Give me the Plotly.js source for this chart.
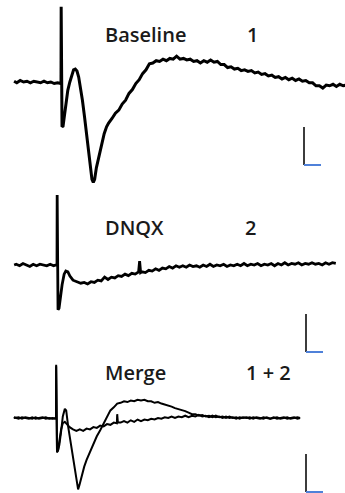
<!DOCTYPE html>
<html>
<head>
<meta charset="utf-8">
<script src="https://cdn.plot.ly/plotly-3.0.1.min.js"></script>
<style>
  html, body { margin: 0; padding: 0; background: #ffffff; }
  #chart { width: 345px; height: 493px; }
</style>
</head>
<body>
<div id="chart"></div>
<script>
// ---- Data (time in ms relative to stimulus, amplitude in mV relative to baseline) ----
const panelLabels = ["Baseline", "DNQX", "Merge"];
const panelTags = ["1", "2", "1 + 2"];

// Panel 1: Baseline
const baselineTime = [-13.8,-13,-12,-11,-10,-9,-8,-7,-6,-5,-4,-3,-2,-1,-0.3,
  0,0.05,0.3,0.6,1.0,1.5,2.0,2.6,3.2,3.7,4.2,4.7,5.2,5.7,6.3,6.9,7.5,8.1,8.6,9.1,9.5,9.9,10.4,10.9,11.4,12.0,12.7,13.4,
  14,15,16,17,18,19,20,21,22,23,24,25,26,27,28,29,30,31,32,33,34,35,36,37,38,39,40,41,42,43,44,45,46,47,48,49,
  50,51,52,53,54,55,56,57,58,59,60,61,62,63,64,65,66,67,68,69,70,71,72,73,74,75,76,77,78,79,80,81,82,83,84];
const baselineMv = [0.01,-0.01,0.02,0.00,0.01,-0.01,0.01,0.00,-0.01,0.01,-0.01,0.00,-0.02,-0.01,-0.02,
  -0.02,0.99,-0.59,-0.58,-0.43,-0.24,-0.11,0.00,0.105,0.16,0.17,0.145,0.066,-0.05,-0.24,-0.45,-0.70,-0.93,-1.13,-1.28,-1.32,-1.28,-1.13,-1.03,-0.91,-0.80,-0.68,-0.59,
  -0.54,-0.48,-0.41,-0.37,-0.29,-0.24,-0.15,-0.10,-0.02,0.03,0.11,0.16,0.24,0.25,0.28,0.27,0.30,0.28,0.31,0.30,0.34,0.30,0.31,0.29,0.30,0.27,0.28,0.25,0.28,0.26,0.29,0.26,0.27,0.23,0.23,0.19,
  0.20,0.17,0.18,0.15,0.16,0.14,0.15,0.12,0.13,0.10,0.11,0.08,0.09,0.06,0.07,0.04,0.06,0.03,0.05,0.02,0.04,0.01,0.02,-0.01,-0.01,-0.05,-0.05,-0.08,-0.04,-0.05,-0.03,-0.06,-0.03,-0.05,-0.04];

// Panel 2: DNQX
const dnqxTime = [-12.6,-12,-11,-10,-9,-8,-7,-6,-5,-4,-3,-2,-1,-0.3,
  0,0.05,0.3,0.6,0.9,1.5,2.1,2.6,3.2,3.8,4.7,5.9,7,8,9,10,11,12,13,14,15,16,17,18,19,20,21,22,23,24,24.3,24.6,
  25,26,27,28,29,30,31,32,33,34,35,36,37,38,39,40,41,42,43,44,45,46,47,48,49,50,51,52,53,54,55,56,57,58,59,
  60,61,62,63,64,65,66,67,68,69,70,71,72,73,74,75,76,77,78,79,80,81,82];
const dnqxMv = [0.00,0.01,-0.01,0.02,0.00,-0.02,0.01,-0.01,0.01,0.00,-0.01,0.01,-0.01,0.00,
  0.00,0.92,-0.59,-0.57,-0.46,-0.26,-0.12,-0.08,-0.09,-0.145,-0.20,-0.22,-0.24,-0.23,-0.25,-0.22,-0.23,-0.20,-0.21,-0.16,-0.19,-0.16,-0.17,-0.14,-0.15,-0.12,-0.14,-0.11,-0.12,-0.09,0.05,-0.10,
  -0.09,-0.10,-0.07,-0.08,-0.05,-0.07,-0.04,-0.05,-0.02,-0.04,-0.01,-0.03,-0.01,-0.03,0.00,-0.02,-0.01,-0.03,0.00,-0.02,0.01,-0.02,0.00,-0.01,0.01,-0.02,0.00,-0.01,0.01,-0.01,0.02,-0.01,0.01,0.00,0.02,
  -0.01,0.01,0.00,0.02,-0.01,0.02,0.00,0.03,0.00,0.02,0.01,0.03,0.00,0.02,0.01,0.03,0.01,0.02,0.00,0.03,0.01,0.03,0.02];

// Panel 3: Merge (baseline trace and DNQX trace overlaid)
const mergeTime1 = [-12.4,-11,-10,-9,-8,-7,-6,-5,-4,-3,-2,-1,-0.3,
  0,0.05,0.3,0.6,1.0,1.5,2.0,2.6,3.0,3.6,4.6,5.6,6.2,6.5,6.9,7.6,8.3,9.0,
  10,11,12,13,14,15,16,17,18,19,20,21,22,23,24,25,26,27,28,29,30,31,32,33,34,35,36,37,38,39,
  40,41,42,43,44,45,46,47,48,49,50,51,52,53,54,55,56,57,58,59,60,61,62,63,64,65,66,67,68,69,70,71,71.8];
const mergeMv1 = [0.01,-0.01,0.01,0.00,-0.01,0.01,-0.01,0.00,0.01,-0.01,0.00,-0.01,0.00,
  0.00,0.70,-0.45,-0.43,-0.35,-0.18,0.02,0.12,0.10,-0.12,-0.42,-0.72,-0.88,-0.94,-0.88,-0.75,-0.64,-0.55,
  -0.44,-0.33,-0.24,-0.16,-0.07,0.02,0.10,0.14,0.19,0.20,0.22,0.21,0.23,0.22,0.24,0.23,0.24,0.22,0.22,0.20,0.21,0.19,0.18,0.16,0.15,0.13,0.12,0.10,0.09,0.07,
  0.05,0.05,0.03,0.04,0.02,0.03,0.01,0.03,0.01,0.02,0.00,0.02,0.00,0.01,-0.01,0.01,0.00,0.01,-0.01,0.01,0.00,-0.01,0.01,-0.01,0.00,0.01,-0.01,0.00,0.01,-0.01,0.00,0.01,0.00];
const mergeTime2 = [-12.4,-11,-10,-9,-8,-7,-6,-5,-4,-3,-2,-1,-0.3,
  0,0.05,0.3,0.6,1.0,1.5,2.0,2.6,3.2,4.0,5,6,7,8,9,10,11,12,13,14,15,16,17,17.9,18,18.2,19,
  20,21,22,23,24,25,26,27,28,29,30,31,32,33,34,35,36,37,38,39,40,41,42,43,44,45,46,47,48,49,
  50,51,52,53,54,55,56,57,58,59,60,61,62,63,64,65,66,67,68,69,70,71,71.8];
const mergeMv2 = [0.00,0.01,-0.01,0.01,0.00,-0.01,0.01,-0.01,0.00,0.01,-0.01,0.00,-0.01,
  0.00,0.68,-0.45,-0.42,-0.30,-0.15,-0.07,-0.05,-0.08,-0.12,-0.15,-0.17,-0.15,-0.17,-0.14,-0.15,-0.12,-0.13,-0.10,-0.11,-0.08,-0.09,-0.06,-0.07,0.05,-0.06,-0.06,
  -0.04,-0.06,-0.03,-0.05,-0.02,-0.04,-0.02,-0.03,-0.01,-0.02,0.00,-0.01,0.01,0.00,0.02,0.00,0.02,0.01,0.03,0.01,0.03,0.02,0.04,0.02,0.03,0.01,0.03,0.01,0.02,0.00,
  0.02,0.00,0.01,-0.01,0.01,0.00,0.01,-0.01,0.01,0.00,-0.01,0.01,0.00,-0.01,0.01,-0.01,0.00,0.01,-0.01,0.00,0.01,-0.01,0.00];

// Scale bar size (same in every panel)
const scaleBarMs = [5, 5, 5];
const scaleBarMv = [0.5, 0.5, 0.5];

// ---- Layout geometry ----
const W = 345, H = 493;
const pxPerMs = 3.4, pxPerMv = 76;
const geo = [
  {stimX: 61, baseY: 82,  top: 0,   bottom: 192, sbX: 304, sbY: 165, labelY: 35,  lineW: 3.0},
  {stimX: 57, baseY: 265, top: 192, bottom: 356, sbX: 306, sbY: 352, labelY: 227, lineW: 2.8},
  {stimX: 56, baseY: 418, top: 356, bottom: 493, sbX: 306, sbY: 492, labelY: 372, lineW: 2.0}
];

const traces = [];
const layout = {
  width: W, height: H,
  margin: {l: 0, r: 0, t: 0, b: 0},
  paper_bgcolor: '#ffffff',
  plot_bgcolor: 'rgba(0,0,0,0)',
  showlegend: false,
  shapes: [],
  annotations: []
};

const series = [
  [[baselineTime, baselineMv]],
  [[dnqxTime, dnqxMv]],
  [[mergeTime1, mergeMv1], [mergeTime2, mergeMv2]]
];

geo.forEach((g, i) => {
  const n = i + 1;
  const xa = n === 1 ? 'x' : 'x' + n;
  const ya = n === 1 ? 'y' : 'y' + n;
  const xKey = n === 1 ? 'xaxis' : 'xaxis' + n;
  const yKey = n === 1 ? 'yaxis' : 'yaxis' + n;
  layout[xKey] = {
    domain: [0, 1], anchor: ya,
    range: [(0 - g.stimX) / pxPerMs, (W - g.stimX) / pxPerMs],
    visible: false, showgrid: false, zeroline: false, fixedrange: true
  };
  layout[yKey] = {
    domain: [1 - g.bottom / H, 1 - g.top / H], anchor: xa,
    range: [(g.baseY - g.bottom) / pxPerMv, (g.baseY - g.top) / pxPerMv],
    visible: false, showgrid: false, zeroline: false, fixedrange: true
  };
  series[i].forEach(([t, v]) => {
    traces.push({
      x: t, y: v, xaxis: xa, yaxis: ya, type: 'scatter', mode: 'lines',
      line: {color: '#000000', width: g.lineW, shape: 'linear'},
      hoverinfo: 'skip'
    });
  });
  const sx = (g.sbX - g.stimX) / pxPerMs;
  const sy = (g.baseY - g.sbY) / pxPerMv;
  layout.shapes.push({
    type: 'line', xref: xa, yref: ya,
    x0: sx, x1: sx, y0: sy, y1: sy + scaleBarMv[i],
    line: {color: '#3c3c3c', width: 2}
  });
  layout.shapes.push({
    type: 'line', xref: xa, yref: ya,
    x0: sx, x1: sx + scaleBarMs[i], y0: sy, y1: sy,
    line: {color: '#4f81d9', width: 2}
  });
  const fnt = {family: '"Open Sans", "Noto Sans", sans-serif', size: 20, weight: 600, color: '#1a1a1a'};
  layout.annotations.push({
    text: panelLabels[i], xref: 'paper', yref: 'paper',
    x: [145, 134, 135][i] / W, y: 1 - g.labelY / H,
    xanchor: 'center', yanchor: 'middle', showarrow: false, font: fnt
  });
  layout.annotations.push({
    text: panelTags[i], xref: 'paper', yref: 'paper',
    x: [253, 250, 268][i] / W, y: 1 - g.labelY / H,
    xanchor: 'center', yanchor: 'middle', showarrow: false, font: fnt
  });
});

Plotly.newPlot('chart', traces, layout, {displayModeBar: false, staticPlot: true});
</script>
</body>
</html>
